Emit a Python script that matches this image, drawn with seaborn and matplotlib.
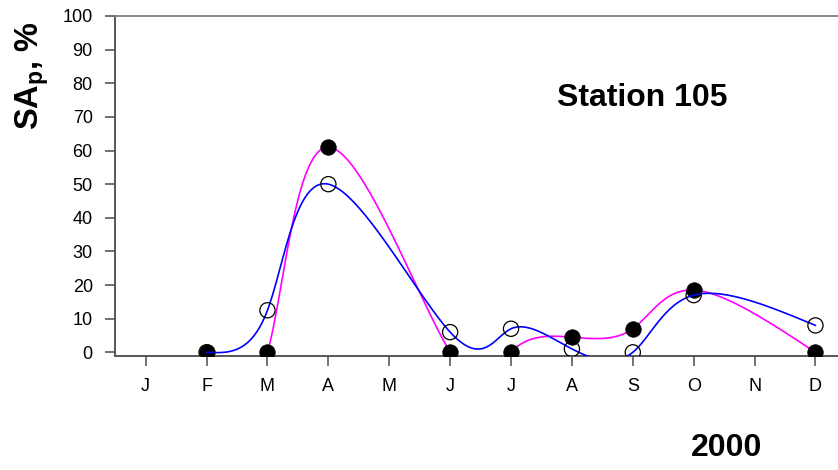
import numpy as np
import pandas as pd
import matplotlib
matplotlib.use("Agg")
import matplotlib.pyplot as plt
import seaborn as sns

# Monthly SA_p values at Station 105, 2000
month_labels = ["J", "F", "M", "A", "M", "J", "J", "A", "S", "O", "N", "D"]
sample_pos = [1, 2, 3, 5, 6, 7, 8, 9, 11]            # Feb .. Dec (no May / Nov samples), Jan = 0
sap_open = [0, 12.5, 50, 6, 7, 1, 0, 17, 8]          # open circles, blue curve
sap_filled = [0, 0, 61, 0, 0, 4.5, 7, 18.5, 0]       # filled circles, magenta curve

sns.set_theme(style="white")
plt.rcParams["font.family"] = ["Liberation Sans", "DejaVu Sans"]
plt.rcParams["text.color"] = "black"
plt.rcParams["mathtext.fontset"] = "custom"
plt.rcParams["mathtext.rm"] = "Liberation Sans"
plt.rcParams["mathtext.bf"] = "Liberation Sans:bold"


def natural_coeffs(t, y):
    k = len(t)
    h = np.diff(t)
    A = np.zeros((k, k))
    b = np.zeros(k)
    A[0, 0] = A[-1, -1] = 1
    for i in range(1, k - 1):
        A[i, i - 1] = h[i - 1]
        A[i, i] = 2 * (h[i - 1] + h[i])
        A[i, i + 1] = h[i]
        b[i] = 6 * ((y[i + 1] - y[i]) / h[i] - (y[i] - y[i - 1]) / h[i - 1])
    return np.linalg.solve(A, b)


def eval_spline(t, y, M, ts):
    k = len(t)
    idx = np.clip(np.searchsorted(t, ts) - 1, 0, k - 2)
    t0, t1 = t[idx], t[idx + 1]
    hh = t1 - t0
    return (M[idx] * (t1 - ts) ** 3 / (6 * hh) + M[idx + 1] * (ts - t0) ** 3 / (6 * hh)
            + (y[idx] / hh - M[idx] * hh / 6) * (t1 - ts)
            + (y[idx + 1] / hh - M[idx + 1] * hh / 6) * (ts - t0))


def parametric_spline(x, y, n=1500):
    """Smooth curve through the points: natural cubic splines for x and y,
    both parameterised by the point number."""
    x = np.asarray(x, float)
    y = np.asarray(y, float)
    t = np.arange(len(x), dtype=float)
    ts = np.linspace(0, t[-1], n)
    xs = eval_spline(t, x, natural_coeffs(t, x), ts)
    ys = eval_spline(t, y, natural_coeffs(t, y), ts)
    return xs, ys


pts = pd.DataFrame({"x": sample_pos, "open": sap_open, "filled": sap_filled})
bx, by = parametric_spline(sample_pos, sap_open)
mx, my = parametric_spline(sample_pos, sap_filled)

fig = plt.figure(figsize=(8.38, 4.70), dpi=100)
ax = fig.add_axes([115 / 838, 114.5 / 470, 723 / 838, 339.5 / 470])

sns.lineplot(x=mx, y=my, sort=False, estimator=None, color="#ff00ff", lw=1.2, ax=ax, zorder=2)
sns.scatterplot(data=pts, x="x", y="filled", s=125, color="black",
                edgecolor="black", linewidth=0.5, ax=ax, zorder=3)
sns.lineplot(x=bx, y=by, sort=False, estimator=None, color="#0000ff", lw=1.2, ax=ax, zorder=4)
sns.scatterplot(data=pts, x="x", y="open", s=120, facecolor="none",
                edgecolor="black", linewidth=0.9, ax=ax, zorder=5)

ax.set_xlim(-0.504, 11.37)
ax.set_ylim(-0.95, 100)
ax.set_xticks(range(12))
ax.set_xticklabels(month_labels)
ax.set_yticks(range(0, 101, 10))
ax.set_xlabel("")
ax.set_ylabel("")

for side in ["left", "bottom"]:
    ax.spines[side].set_color("#4a4a4a")
    ax.spines[side].set_linewidth(1.3)
ax.spines["top"].set_color("#7f7f7f")
ax.spines["top"].set_linewidth(1.3)
ax.spines["right"].set_visible(False)

ax.tick_params(axis="both", which="major", direction="out", length=7, width=1.1,
               color="#4a4a4a", labelsize=13, labelcolor="black")
ax.tick_params(axis="y", pad=9, left=True)
ax.tick_params(axis="x", pad=9, bottom=True)

fig.text(642 / 838, 1 - 98 / 470, "Station 105", fontsize=23, fontweight="bold",
         ha="center", va="center")
fig.text(727 / 838, 1 - 448 / 470, "2000", fontsize=23, fontweight="bold",
         ha="center", va="center")
fig.text(32 / 838, 1 - 76 / 470, r"SA$_\mathbf{p}$, %", fontsize=23.5,
         fontweight="bold", rotation=90, ha="center", va="center")

fig.savefig("out.png", dpi=100)
